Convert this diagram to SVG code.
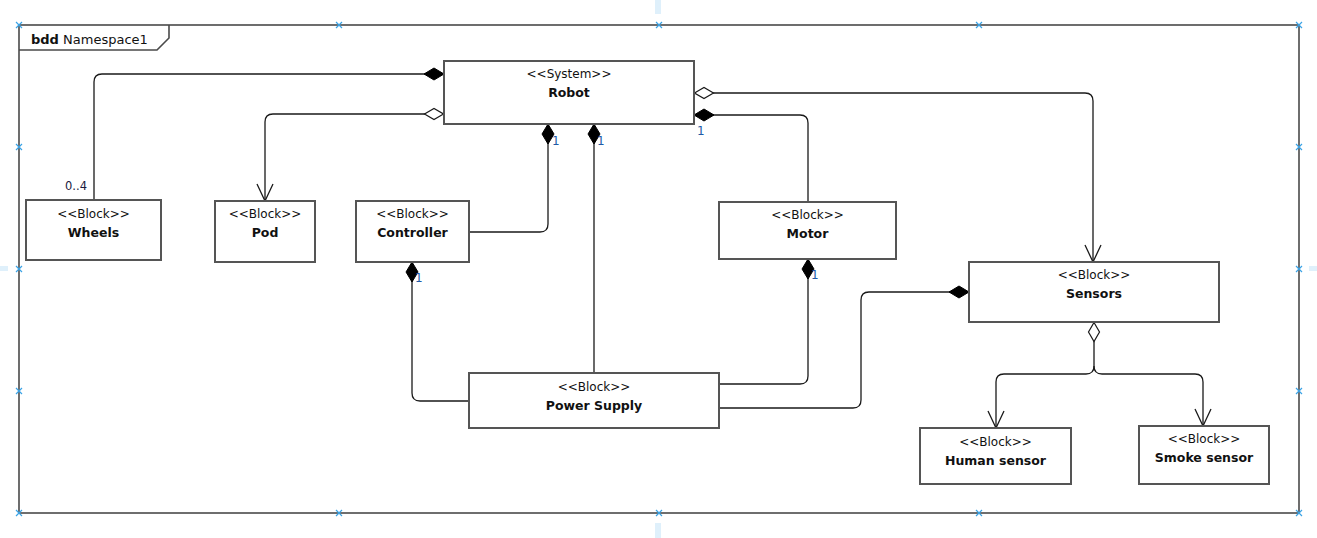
<svg xmlns="http://www.w3.org/2000/svg" width="1317" height="538" viewBox="0 0 1317 538">
<style>
.frame{fill:none;stroke:#4a4a4a;stroke-width:1.6}
.box{fill:#fff;stroke:#555;stroke-width:2}
.st{font-family:"DejaVu Sans",sans-serif;font-size:12px;fill:#111;text-anchor:middle}
.nm{font-family:"DejaVu Sans",sans-serif;font-size:12.5px;font-weight:bold;fill:#111;text-anchor:middle}
.conn path{fill:none;stroke:#1a1a1a;stroke-width:1.3}
.lbl{font-family:"DejaVu Sans",sans-serif;font-size:12px;fill:#1f5aa6}
.lbd{font-family:"DejaVu Sans",sans-serif;font-size:11.5px;fill:#1a1a40}
.hx{stroke:#3aa3e6;stroke-width:1.2}
.guide{fill:#dff0fb}
</style>
<defs>
<marker id="fd" markerUnits="userSpaceOnUse" markerWidth="22" markerHeight="14" viewBox="0 -7 22 14" refX="0" refY="0" orient="auto"><path d="M0,0 L10,-6 L20,0 L10,6 Z" fill="#000" stroke="#000" stroke-width="1"/></marker>
<marker id="od" markerUnits="userSpaceOnUse" markerWidth="22" markerHeight="14" viewBox="0 -7 22 14" refX="0" refY="0" orient="auto"><path d="M0.5,0 L10,-5.5 L19.5,0 L10,5.5 Z" fill="#fff" stroke="#1a1a1a" stroke-width="1.2"/></marker>
<marker id="ar" markerUnits="userSpaceOnUse" markerWidth="20" markerHeight="20" viewBox="-18 -10 20 20" refX="0" refY="0" orient="auto"><path d="M-17,-8 L0,0 L-17,8" fill="none" stroke="#1a1a1a" stroke-width="1.3"/></marker>
<g id="hxm"><path class="hx" d="M-3,-3 L3,3 M3,-3 L-3,3"/></g>
</defs>
<rect width="1317" height="538" fill="#fff"/>
<g id="guides">
<rect class="guide" x="655" y="0" width="6" height="14"/>
<rect class="guide" x="655" y="523" width="6" height="15"/>
<rect class="guide" x="0" y="266" width="8" height="5"/>
<rect class="guide" x="1309" y="266" width="8" height="5"/>
</g>
<g id="frame">
<rect class="frame" x="19" y="25" width="1280" height="488"/>
<path class="frame" d="M19,50 H157 L169,38 V25"/>
<text x="31" y="44" font-family="DejaVu Sans,sans-serif" font-size="13" fill="#111"><tspan font-weight="bold">bdd</tspan> Namespace1</text>
</g>
<g id="connectors" class="conn">
<path d="M444,74 H102 Q94,74 94,82 V200" marker-start="url(#fd)"/>
<path d="M444,114 H273 Q265,114 265,122 V201" marker-start="url(#od)" marker-end="url(#ar)"/>
<path d="M548,124 V224 Q548,232 540,232 H469" marker-start="url(#fd)"/>
<path d="M594,124 V373" marker-start="url(#fd)"/>
<path d="M694,115 H800 Q808,115 808,123 V202" marker-start="url(#fd)"/>
<path d="M694,93 H1085 Q1093,93 1093,101 V262" marker-start="url(#od)" marker-end="url(#ar)"/>
<path d="M412,262 V393 Q412,401 420,401 H469" marker-start="url(#fd)"/>
<path d="M808,259 V376 Q808,384 800,384 H719" marker-start="url(#fd)"/>
<path d="M969,292 H869 Q861,292 861,300 V400 Q861,408 853,408 H719" marker-start="url(#fd)"/>
<path d="M1094,322 V366 Q1094,374 1086,374 H1004 Q996,374 996,382 V428" marker-start="url(#od)" marker-end="url(#ar)"/>
<path d="M1094,366 Q1094,374 1102,374 H1195 Q1203,374 1203,382 V426" marker-end="url(#ar)"/>
<text class="lbl" x="446" y="93">1</text>
<text class="lbd" x="65" y="190">0..4</text>
<text class="lbl" x="552" y="145" font-size="11">1</text>
<text class="lbl" x="597" y="145" font-size="11">1</text>
<text class="lbl" x="697" y="135">1</text>
<text class="lbl" x="415" y="282" font-size="11">1</text>
<text class="lbl" x="811" y="279" font-size="11">1</text>
<text class="lbd" x="971" y="311" font-size="12">1</text>
</g>
<g id="robot"><rect class="box" x="444" y="61" width="250" height="63"/><text class="st" x="569" y="78">&lt;&lt;System&gt;&gt;</text><text class="nm" x="569" y="97">Robot</text></g>
<g id="wheels"><rect class="box" x="26" y="200" width="135" height="60"/><text class="st" x="93.5" y="218">&lt;&lt;Block&gt;&gt;</text><text class="nm" x="93.5" y="237">Wheels</text></g>
<g id="pod"><rect class="box" x="215" y="201" width="100" height="61"/><text class="st" x="265" y="218">&lt;&lt;Block&gt;&gt;</text><text class="nm" x="265" y="237">Pod</text></g>
<g id="controller"><rect class="box" x="356" y="201" width="113" height="61"/><text class="st" x="412.5" y="218">&lt;&lt;Block&gt;&gt;</text><text class="nm" x="412.5" y="237">Controller</text></g>
<g id="motor"><rect class="box" x="719" y="202" width="177" height="57"/><text class="st" x="807.5" y="219">&lt;&lt;Block&gt;&gt;</text><text class="nm" x="807.5" y="238">Motor</text></g>
<g id="sensors"><rect class="box" x="969" y="262" width="250" height="60"/><text class="st" x="1094" y="279">&lt;&lt;Block&gt;&gt;</text><text class="nm" x="1094" y="298">Sensors</text></g>
<g id="power-supply"><rect class="box" x="469" y="373" width="250" height="55"/><text class="st" x="594" y="391">&lt;&lt;Block&gt;&gt;</text><text class="nm" x="594" y="410">Power Supply</text></g>
<g id="human-sensor"><rect class="box" x="920" y="428" width="151" height="56"/><text class="st" x="995.5" y="446">&lt;&lt;Block&gt;&gt;</text><text class="nm" x="995.5" y="465">Human sensor</text></g>
<g id="smoke-sensor"><rect class="box" x="1139" y="426" width="130" height="58"/><text class="st" x="1204" y="443">&lt;&lt;Block&gt;&gt;</text><text class="nm" x="1204" y="462">Smoke sensor</text></g>
<g id="handles">
<use href="#hxm" x="19" y="25"/><use href="#hxm" x="339" y="25"/><use href="#hxm" x="659" y="25"/><use href="#hxm" x="979" y="25"/><use href="#hxm" x="1299" y="25"/>
<use href="#hxm" x="19" y="513"/><use href="#hxm" x="339" y="513"/><use href="#hxm" x="659" y="513"/><use href="#hxm" x="979" y="513"/><use href="#hxm" x="1299" y="513"/>
<use href="#hxm" x="19" y="147"/><use href="#hxm" x="19" y="269"/><use href="#hxm" x="19" y="391"/>
<use href="#hxm" x="1299" y="147"/><use href="#hxm" x="1299" y="269"/><use href="#hxm" x="1299" y="391"/>
</g>
</svg>
